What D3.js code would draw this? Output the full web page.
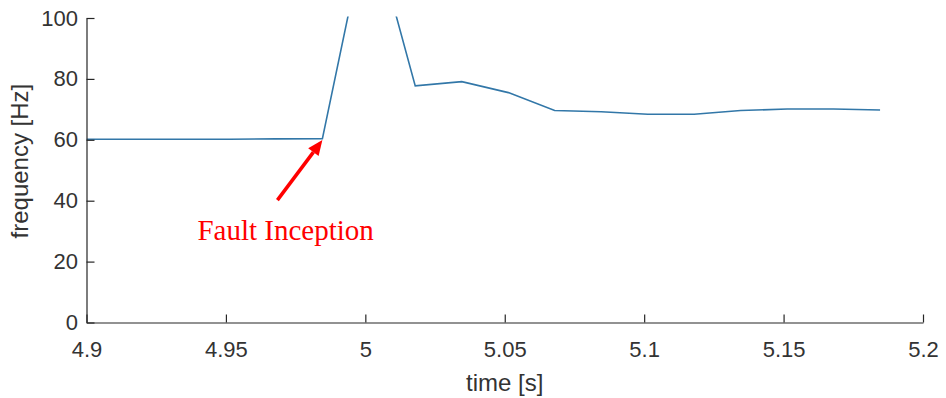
<!DOCTYPE html>
<html lang="en">

<head>
    <meta charset="UTF-8">
    <title>Frequency after fault</title>
    <script src="https://d3js.org/d3.v7.min.js"></script>
    <style>
        body {
            margin: 0;
            background: #fff;
        }

        .axis text {
            font-family: "Liberation Sans", Arial, sans-serif;
            font-size: 22px;
            fill: #333;
        }

        .axis path,
        .axis line {
            stroke: #262626;
            stroke-width: 1.2px;
        }

        .label {
            font-family: "Liberation Sans", Arial, sans-serif;
            font-size: 24px;
            fill: #333;
        }

        .freq {
            fill: none;
            stroke: #3277a8;
            stroke-width: 1.6px;
        }

        .note {
            font-family: "Liberation Serif", "Times New Roman", serif;
            font-size: 29px;
            fill: #ff0000;
        }
    </style>
</head>

<body>
    <svg></svg>
</body>

<script>
    // samples (one per cycle, ~1/60 s apart)
    const timeValues = [4.9, 4.9179, 4.9346, 4.9513, 4.9679, 4.9846, 5.0013, 5.0179, 5.0346,
        5.0513, 5.0679, 5.0846, 5.1013, 5.1179, 5.1346, 5.1513, 5.1679, 5.1846];
    const freqValues = [60.2, 60.2, 60.2, 60.2, 60.3, 60.4, 133.5, 77.7, 79.1,
        75.5, 69.6, 69.2, 68.4, 68.4, 69.6, 70.1, 70.1, 69.8];

    const xTicks = [4.9, 4.95, 5, 5.05, 5.1, 5.15, 5.2];
    const yTicks = [0, 20, 40, 60, 80, 100];

    // annotation: points at the fault sample
    const faultTime = 4.9846, faultFreq = 60.4;
    const faultLabel = "Fault Inception";

    const margin = { top: 18, right: 23, bottom: 75.5, left: 86.5 },
        W = 946, H = 398,
        width = W - margin.left - margin.right,
        height = H - margin.top - margin.bottom;

    const svg = d3.select("svg")
        .attr("width", W)
        .attr("height", H)
        .append("g")
        .attr("transform", `translate(${margin.left},${margin.top})`);

    const x = d3.scaleLinear().domain([4.9, 5.2]).range([0, width]);
    const y = d3.scaleLinear().domain([0, 100]).range([height, 0]);

    // clip so the spike gets cut at the top like the original
    svg.append("clipPath").attr("id", "clip")
        .append("rect")
        .attr("x", 0).attr("y", -1.5)
        .attr("width", width).attr("height", height + 1.5);

    const data = timeValues.map((t, i) => ({ t: t, f: freqValues[i] }));

    svg.append("path")
        .datum(data)
        .attr("class", "freq")
        .attr("clip-path", "url(#clip)")
        .attr("d", d3.line().x(d => x(d.t)).y(d => y(d.f)));

    // axes, ticks point inward
    svg.append("g")
        .attr("class", "axis")
        .attr("transform", `translate(0,${height})`)
        .call(d3.axisBottom(x).tickValues(xTicks).tickFormat(d3.format("")).tickSize(-8).tickSizeOuter(0).tickPadding(19));

    svg.append("g")
        .attr("class", "axis")
        .call(d3.axisLeft(y).tickValues(yTicks).tickSize(-8).tickSizeOuter(0).tickPadding(8.5));

    svg.selectAll(".axis .domain").attr("stroke", "#262626");

    // axis labels
    svg.append("text")
        .attr("class", "label")
        .attr("text-anchor", "middle")
        .attr("x", x(5.05))
        .attr("y", height + 68.5)
        .text("time [s]");

    svg.append("text")
        .attr("class", "label")
        .attr("text-anchor", "middle")
        .attr("transform", `translate(${-58.5},${y(53)}) rotate(-90)`)
        .text("frequency [Hz]");

    // fault annotation
    const tipX = x(faultTime), tipY = y(faultFreq) + 1.5;
    const tailX = tipX - 45, tailY = tipY + 60;
    const ang = Math.atan2(tipY - tailY, tipX - tailX);
    const headLen = 15, headW = 6.5;
    const baseX = tipX - headLen * Math.cos(ang), baseY = tipY - headLen * Math.sin(ang);

    svg.append("line")
        .attr("x1", tailX).attr("y1", tailY)
        .attr("x2", baseX).attr("y2", baseY)
        .attr("stroke", "#ff0000")
        .attr("stroke-width", 3.5);

    svg.append("path")
        .attr("fill", "#ff0000")
        .attr("d", `M${tipX},${tipY}L${baseX + headW * Math.sin(ang)},${baseY - headW * Math.cos(ang)}` +
            `L${baseX - headW * Math.sin(ang)},${baseY + headW * Math.cos(ang)}Z`);

    svg.append("text")
        .attr("class", "note")
        .attr("x", tailX - 80)
        .attr("y", tailY + 40)
        .text(faultLabel);
</script>

</html>
